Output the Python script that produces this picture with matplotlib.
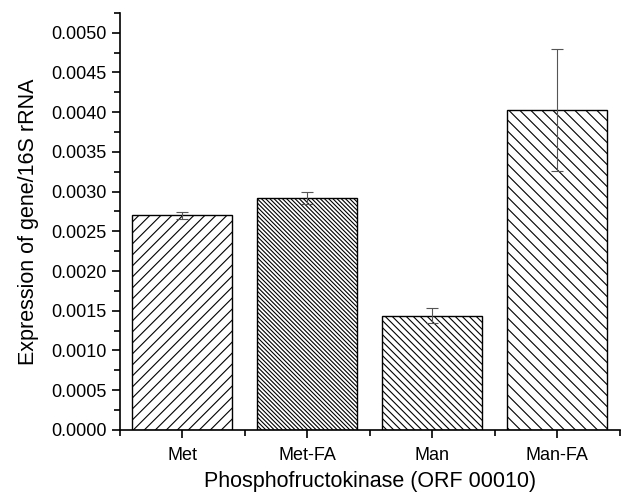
import numpy as np
import matplotlib.pyplot as plt
from matplotlib.ticker import MultipleLocator, FormatStrFormatter
from matplotlib.collections import LineCollection
from matplotlib.transforms import IdentityTransform

plt.rcParams['font.family'] = ['Liberation Sans', 'DejaVu Sans']

# expression values and standard errors
groups = ['Met', 'Met-FA', 'Man', 'Man-FA']
expr = [0.00270, 0.00292, 0.00144, 0.00403]
err = [0.00004, 0.00007, 0.00010, 0.00077]
# hatch spacing in pixels and direction (+1 = '/', -1 = '\')
hatch_gap = [11, 4.2, 7, 11]
hatch_dir = [1, -1, -1, -1]

fig = plt.figure(figsize=(6.41, 4.97), dpi=100)
ax = fig.add_axes([0.187, 0.135, 0.78, 0.839])

ax.set_xlim(0.5, 4.5)
ax.set_ylim(0, 0.00525)


def hatch_bar(ax, patch, gap, direction):
    # diagonal lines at 45 deg in pixel space, clipped to the bar
    x0, y0 = ax.transData.transform((patch.get_x(), patch.get_y()))
    x1, y1 = ax.transData.transform((patch.get_x() + patch.get_width(),
                                     patch.get_y() + patch.get_height()))
    w = x1 - x0
    h = y1 - y0
    segs = []
    for c in np.arange(-w, h + w, gap):
        if direction > 0:
            segs.append([(x0, y0 + c), (x1, y0 + c + w)])
        else:
            segs.append([(x0, y1 - c), (x1, y1 - c - w)])
    lc = LineCollection(segs, colors='black', linewidths=0.8,
                        transform=IdentityTransform())
    ax.add_collection(lc, autolim=False)
    lc.set_clip_path(patch)


x = np.arange(1, len(groups) + 1)
bars = ax.bar(x, expr, width=0.8, color='white', edgecolor='black', linewidth=1.0)
for b, g, d in zip(bars, hatch_gap, hatch_dir):
    hatch_bar(ax, b, g, d)
ax.errorbar(x, expr, yerr=err, fmt='none', ecolor='#555555', capsize=4,
            elinewidth=0.8, capthick=0.8, zorder=3)

ax.set_xticks(x)
ax.set_xticklabels(groups)
ax.set_xticks(np.arange(0.5, 4.6, 1.0), minor=True)
ax.yaxis.set_major_locator(MultipleLocator(0.0005))
ax.yaxis.set_minor_locator(MultipleLocator(0.00025))
ax.yaxis.set_major_formatter(FormatStrFormatter('%.4f'))

ax.spines['top'].set_visible(False)
ax.spines['right'].set_visible(False)
ax.spines['left'].set_linewidth(1.2)
ax.spines['bottom'].set_linewidth(1.2)
ax.tick_params(which='major', direction='out', length=6, width=1.2, labelsize=13)
ax.tick_params(which='minor', direction='out', length=4, width=1.2)
ax.tick_params(axis='x', pad=6)

ax.set_xlabel('Phosphofructokinase (ORF 00010)', fontsize=15.5, labelpad=5)
ax.set_ylabel('Expression of gene/16S rRNA', fontsize=15.5, labelpad=9)

fig.savefig('out.png', dpi=100)
